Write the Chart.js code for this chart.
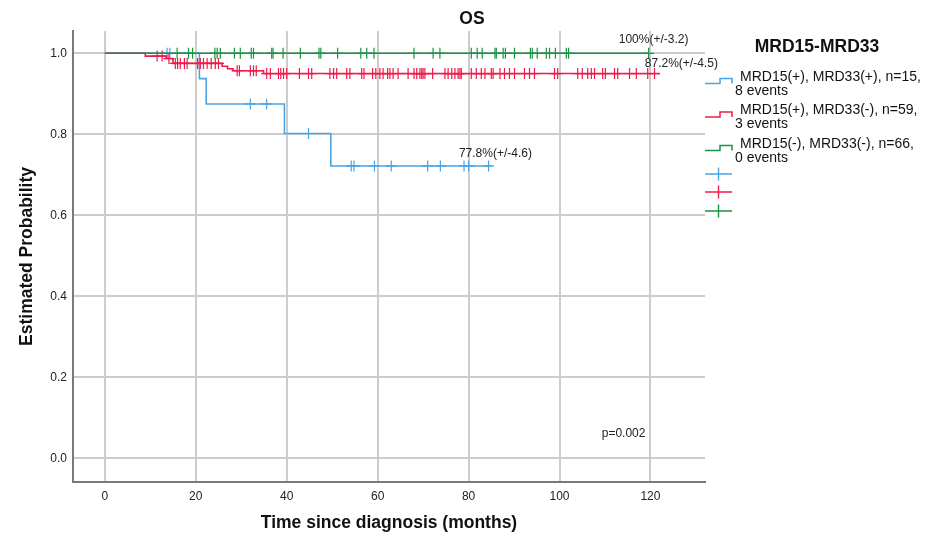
<!DOCTYPE html>
<html>
<head>
<meta charset="utf-8">
<script src="https://cdn.jsdelivr.net/npm/chart.js@4.4.1/dist/chart.umd.min.js"></script>
<style>
  html, body { margin: 0; padding: 0; background: #fff; }
  #wrap { width: 930px; height: 538px; }
</style>
</head>
<body>
<div id="wrap"><canvas id="km" width="930" height="538"></canvas></div>
<script>
// Kaplan-Meier overall survival by MRD status
const chartTitle = 'OS';
const legendTitle = 'MRD15-MRD33';
const groupLabels = ['MRD15(+), MRD33(+), n=15,', 'MRD15(+), MRD33(-), n=59,', 'MRD15(-), MRD33(-), n=66,'];
const groupEvents = ['8 events', '3 events', '0 events'];
const groupColors = ['#4aa3e4', '#ee1b4b', '#1b9343'];

const xTicks = [0, 20, 40, 60, 80, 100, 120];
const yTicks = [0, 0.2, 0.4, 0.6, 0.8, 1.0];

// step curves: event times (months) and survival after each step
const blueTimes = [0, 20.8, 22.3, 39.5, 49.7];
const blueSurv = [1, 0.9375, 0.875, 0.802, 0.722];
const blueEnd = 85.0;
const blueCensored = [13.7, 14.3, 32.0, 35.6, 44.8, 54.2, 54.8, 59.3, 63.0, 71.0, 73.8, 79.0, 80.0, 84.4];

const redTimes = [0, 8.9, 13.5, 15.0, 25.8, 27.0, 28.2, 34.9];
const redSurv = [1, 0.993, 0.987, 0.975, 0.968, 0.962, 0.957, 0.950];
const redEnd = 122.0;
const redCensored = [11.5, 12.6, 14.1, 15.5, 16.0, 16.6, 17.5, 18.1, 20.4, 21.0, 21.7, 22.5, 23.4, 24.3, 25.0,
  29.1, 29.6, 32.0, 32.7, 33.3, 35.6, 36.4, 38.2, 38.7, 39.3, 40.0, 42.8, 44.8, 45.5, 49.5, 50.3, 51.0,
  53.2, 53.9, 56.5, 57.0, 58.9, 59.6, 60.5, 61.2, 62.2, 62.7, 63.4, 64.5, 66.7, 68.0, 68.6, 69.3, 69.7,
  70.0, 70.4, 72.1, 74.8, 75.5, 76.3, 77.0, 77.7, 78.1, 78.4, 80.6, 81.7, 82.8, 83.6, 85.0, 85.4, 86.9,
  87.9, 89.0, 90.1, 92.3, 93.4, 94.5, 98.9, 99.6, 104.0, 105.0, 106.2, 107.0, 107.7, 109.5, 110.1,
  112.1, 112.8, 115.4, 116.9, 119.4, 120.9];

const greenTimes = [0];
const greenSurv = [1];
const greenEnd = 119.6;
const greenCensored = [15.9, 18.4, 19.3, 24.2, 24.7, 25.4, 28.5, 29.8, 32.2, 32.7, 36.7, 37.0, 39.2, 43.0,
  47.1, 47.5, 51.2, 56.3, 57.6, 59.2, 68.0, 72.2, 73.7, 80.6, 81.9, 83.0, 85.8, 86.1, 87.6, 88.1, 90.1,
  93.6, 94.0, 95.1, 97.1, 97.8, 99.1, 101.5, 102.0, 119.6];

const estimateLabels = ['77.8%(+/-4.6)', '87.2%(+/-4.5)', '100%(+/-3.2)'];
const pValueText = 'p=0.002';

const FONT = '"Liberation Sans", Arial, sans-serif';

function curvePoints(times, surv, end) {
  const pts = times.map((t, i) => ({ x: t, y: surv[i] }));
  pts.push({ x: end, y: surv[surv.length - 1] });
  return pts;
}

function survAt(times, surv, t) {
  let s = surv[0];
  for (let i = 0; i < times.length; i++) {
    if (times[i] <= t) s = surv[i];
  }
  return s;
}

function censorPoints(times, surv, cens) {
  return cens.map(t => ({ x: t, y: survAt(times, surv, t) }));
}

const curves = [
  { times: blueTimes, surv: blueSurv, end: blueEnd, cens: blueCensored },
  { times: redTimes, surv: redSurv, end: redEnd, cens: redCensored },
  { times: greenTimes, surv: greenSurv, end: greenEnd, cens: greenCensored }
];

const datasets = [];
curves.forEach((c, i) => {
  datasets.push({
    label: groupLabels[i],
    data: curvePoints(c.times, c.surv, c.end),
    borderColor: groupColors[i],
    borderWidth: 1.6,
    stepped: true,
    pointRadius: 0,
    fill: false,
    order: 3 - i
  });
  datasets.push({
    label: groupLabels[i] + ' censored',
    data: censorPoints(c.times, c.surv, c.cens),
    showLine: false,
    pointStyle: 'cross',
    pointRadius: 5.5,
    pointBorderWidth: 1.2,
    borderColor: groupColors[i],
    backgroundColor: groupColors[i],
    order: 3 - i
  });
});

// title, legend and text annotations
const extrasPlugin = {
  id: 'extras',
  afterDraw(chart) {
    const ctx = chart.ctx;
    const xs = chart.scales.x, ys = chart.scales.y;
    ctx.save();
    ctx.fillStyle = '#111';
    ctx.textBaseline = 'middle';

    ctx.font = 'bold 17.5px ' + FONT;
    ctx.textAlign = 'center';
    ctx.fillText(chartTitle, 472, 19);
    ctx.fillText(legendTitle, 817, 47);

    // estimate labels at the end of each curve
    ctx.font = '12px ' + FONT;
    ctx.fillStyle = '#222';
    ctx.fillText(estimateLabels[0], xs.getPixelForValue(85.9), ys.getPixelForValue(0.751));
    ctx.fillText(estimateLabels[1], xs.getPixelForValue(126.8), ys.getPixelForValue(0.974));
    ctx.fillText(estimateLabels[2], xs.getPixelForValue(120.7), ys.getPixelForValue(1.033));
    ctx.fillText(pValueText, xs.getPixelForValue(114.1), ys.getPixelForValue(0.06));

    // legend: step icons with group text
    ctx.textAlign = 'left';
    ctx.font = '14px ' + FONT;
    for (let i = 0; i < 3; i++) {
      const y = 77 + i * 33.5;
      ctx.strokeStyle = groupColors[i];
      ctx.lineWidth = 1.5;
      ctx.beginPath();
      ctx.moveTo(705, y + 6.5);
      ctx.lineTo(720, y + 6.5);
      ctx.lineTo(720, y + 1.5);
      ctx.lineTo(732, y + 1.5);
      ctx.lineTo(732, y + 6.5);
      ctx.stroke();
      ctx.fillStyle = '#111';
      ctx.fillText(groupLabels[i], 740, y);
      ctx.fillText(groupEvents[i], 735, y + 14);
    }
    // legend: censor marks
    const crossY = [174, 192, 211];
    for (let i = 0; i < 3; i++) {
      ctx.strokeStyle = groupColors[i];
      ctx.lineWidth = 1.4;
      ctx.beginPath();
      ctx.moveTo(705, crossY[i]);
      ctx.lineTo(732, crossY[i]);
      ctx.moveTo(718.5, crossY[i] - 6.5);
      ctx.lineTo(718.5, crossY[i] + 6.5);
      ctx.stroke();
    }
    ctx.restore();
  }
};

new Chart(document.getElementById('km'), {
  type: 'line',
  data: { datasets },
  plugins: [extrasPlugin],
  options: {
    responsive: false,
    animation: false,
    devicePixelRatio: 1,
    layout: { padding: { top: 31, right: 225, left: 0, bottom: 0 } },
    plugins: { legend: { display: false }, tooltip: { enabled: false } },
    scales: {
      x: {
        type: 'linear',
        min: -7,
        max: 132,
        afterBuildTicks: s => { s.ticks = xTicks.map(v => ({ value: v })); },
        afterFit: s => { s.height = 56; },
        ticks: { padding: 7, color: '#222', font: { family: FONT, size: 12 } },
        grid: { color: '#cccccc', lineWidth: 2, drawTicks: false },
        border: { color: '#7a7a7a', width: 2 },
        title: {
          display: true,
          text: 'Time since diagnosis (months)',
          color: '#111',
          font: { family: FONT, size: 17.5, weight: 'bold' },
          padding: { top: 0, bottom: 4.5 }
        }
      },
      y: {
        type: 'linear',
        min: -0.058,
        max: 1.055,
        afterBuildTicks: s => { s.ticks = yTicks.map(v => ({ value: v })); },
        afterFit: s => { s.width = 73; },
        ticks: {
          padding: 6,
          color: '#222',
          font: { family: FONT, size: 12 },
          callback: v => v.toFixed(1)
        },
        grid: { color: '#cccccc', lineWidth: 2, drawTicks: false },
        border: { color: '#7a7a7a', width: 2 },
        title: {
          display: true,
          text: 'Estimated Probability',
          color: '#111',
          font: { family: FONT, size: 17.5, weight: 'bold' },
          padding: { top: 16.5, bottom: 0 }
        }
      }
    }
  }
});
</script>
</body>
</html>
